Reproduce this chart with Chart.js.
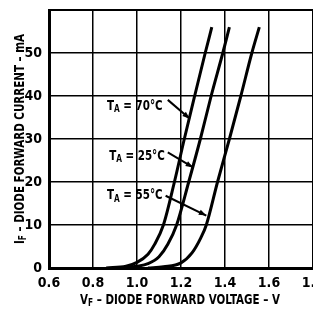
<!DOCTYPE html>
<html>
<head>
<meta charset="utf-8">
<script src="https://cdn.jsdelivr.net/npm/chart.js@4.4.0/dist/chart.umd.min.js"></script>
<style>
  html, body { margin: 0; padding: 0; background: #fff; overflow: hidden; }
  #wrap { width: 340px; height: 309px; }
</style>
</head>
<body>
<div id="wrap"><canvas id="diodeChart" width="340" height="309"></canvas></div>
<script>
// forward voltage (V) / forward current (mA)
const vf70 = [0.86, 0.95, 1.0, 1.05, 1.08, 1.12, 1.17, 1.215, 1.262, 1.31, 1.34];
const if70 = [0, 0.4, 1.3, 3.2, 5.5, 10, 20, 30, 40, 50, 56];
const vf25 = [0.93, 1.0, 1.05, 1.1, 1.14, 1.18, 1.235, 1.288, 1.337, 1.39, 1.42];
const if25 = [0, 0.4, 1.0, 2.6, 5.5, 10, 20, 30, 40, 50, 56];
const vf55 = [1.05, 1.12, 1.2, 1.25, 1.29, 1.315, 1.366, 1.42, 1.472, 1.522, 1.556];
const if55 = [0, 0.3, 1.2, 3.5, 7, 10, 20, 30, 40, 50, 56];

const xTicks = [0.6, 0.8, 1.0, 1.2, 1.4, 1.6, 1.8];
const yTicks = [0, 10, 20, 30, 40, 50];

const tempLabels = ["70°C", "25°C", "55°C"];
// label centre and arrow tail/tip in data units (V, mA)
const labelPos = [[0.99, 37.7], [1.0, 26.0], [0.99, 16.8]];
const arrowFrom = [[1.14, 39.1], [1.14, 26.9], [1.13, 16.8]];
const arrowTo = [[1.24, 34.7], [1.255, 23.4], [1.315, 12.2]];

const FONT = "'DejaVu Sans Condensed', 'DejaVu Sans', sans-serif";
const SQUEEZE = 0.82;

function pts(v, i) {
  return v.map((x, k) => ({ x: x, y: i[k] }));
}

function curve(v, i) {
  return {
    data: pts(v, i),
    borderColor: "#000",
    borderWidth: 3,
    pointRadius: 0,
    fill: false,
    cubicInterpolationMode: "monotone",
  };
}

// draws "main" with a subscript then the rest, centred on x, squeezed sideways
function subText(ctx, main, sub, rest, x, y, size) {
  const big = "bold " + size + "px " + FONT;
  const small = "bold " + Math.round(size * 0.72) + "px " + FONT;
  ctx.font = big;
  const w1 = ctx.measureText(main).width;
  const w3 = ctx.measureText(rest).width;
  ctx.font = small;
  const w2 = ctx.measureText(sub).width;
  ctx.save();
  ctx.translate(x, y);
  ctx.scale(SQUEEZE, 1);
  const left = -(w1 + w2 + w3) / 2;
  ctx.textAlign = "left";
  ctx.textBaseline = "middle";
  ctx.font = big;
  ctx.fillText(main, left, 0);
  ctx.font = small;
  ctx.fillText(sub, left + w1, size * 0.25);
  ctx.font = big;
  ctx.fillText(rest, left + w1 + w2, 0);
  ctx.restore();
}

const annotate = {
  id: "annotate",
  afterDraw(chart) {
    const ctx = chart.ctx;
    const xs = chart.scales.x;
    const ys = chart.scales.y;
    const a = chart.chartArea;
    ctx.save();
    ctx.fillStyle = "#000";
    ctx.strokeStyle = "#000";

    // top border
    ctx.lineWidth = 2;
    ctx.beginPath();
    ctx.moveTo(a.left - 1, a.top);
    ctx.lineTo(a.right + 30, a.top);
    ctx.stroke();

    // temperature labels with arrows
    tempLabels.forEach((t, k) => {
      subText(ctx, "T", "A", " = " + t,
        xs.getPixelForValue(labelPos[k][0]), ys.getPixelForValue(labelPos[k][1]), 14);
      const x0 = xs.getPixelForValue(arrowFrom[k][0]);
      const y0 = ys.getPixelForValue(arrowFrom[k][1]);
      const x1 = xs.getPixelForValue(arrowTo[k][0]);
      const y1 = ys.getPixelForValue(arrowTo[k][1]);
      ctx.lineWidth = 2;
      ctx.beginPath();
      ctx.moveTo(x0, y0);
      ctx.lineTo(x1, y1);
      ctx.stroke();
      const ang = Math.atan2(y1 - y0, x1 - x0);
      ctx.beginPath();
      ctx.moveTo(x1, y1);
      ctx.lineTo(x1 - 8 * Math.cos(ang - 0.35), y1 - 8 * Math.sin(ang - 0.35));
      ctx.lineTo(x1 - 8 * Math.cos(ang + 0.35), y1 - 8 * Math.sin(ang + 0.35));
      ctx.closePath();
      ctx.fill();
    });

    // axis titles
    subText(ctx, "V", "F", " – DIODE FORWARD VOLTAGE – V", 180, 300, 14);
    ctx.save();
    ctx.translate(20, 139);
    ctx.rotate(-Math.PI / 2);
    subText(ctx, "I", "F", " – DIODE FORWARD CURRENT – mA", 0, 0, 14);
    ctx.restore();

    ctx.restore();
  },
};

new Chart(document.getElementById("diodeChart"), {
  type: "line",
  data: {
    datasets: [curve(vf70, if70), curve(vf25, if25), curve(vf55, if55)],
  },
  plugins: [annotate],
  options: {
    responsive: false,
    animation: false,
    layout: { padding: { top: 10, right: 27, left: 0, bottom: 0 } },
    plugins: { legend: { display: false }, tooltip: { enabled: false } },
    scales: {
      x: {
        type: "linear",
        min: 0.6,
        max: 1.8,
        afterBuildTicks: (s) => { s.ticks = xTicks.map((v) => ({ value: v })); },
        afterFit: (s) => { s.height = 41; s.paddingLeft = 0; s.paddingRight = 0; },
        grid: { color: "#000", lineWidth: 1.5, drawTicks: false },
        border: { color: "#000", width: 3 },
        ticks: {
          color: "#000",
          padding: 7,
          maxRotation: 0,
          font: { family: FONT, size: 14, weight: "bold" },
          callback: (v) => v.toFixed(1),
        },
      },
      y: {
        type: "linear",
        min: 0,
        max: 60,
        afterBuildTicks: (s) => { s.ticks = yTicks.map((v) => ({ value: v })); },
        afterFit: (s) => { s.width = 49; s.paddingTop = 0; s.paddingBottom = 0; },
        grid: { color: "#000", lineWidth: 1.5, drawTicks: false },
        border: { color: "#000", width: 3 },
        ticks: {
          color: "#000",
          padding: 7,
          font: { family: FONT, size: 14, weight: "bold" },
        },
      },
    },
  },
});
</script>
</body>
</html>
